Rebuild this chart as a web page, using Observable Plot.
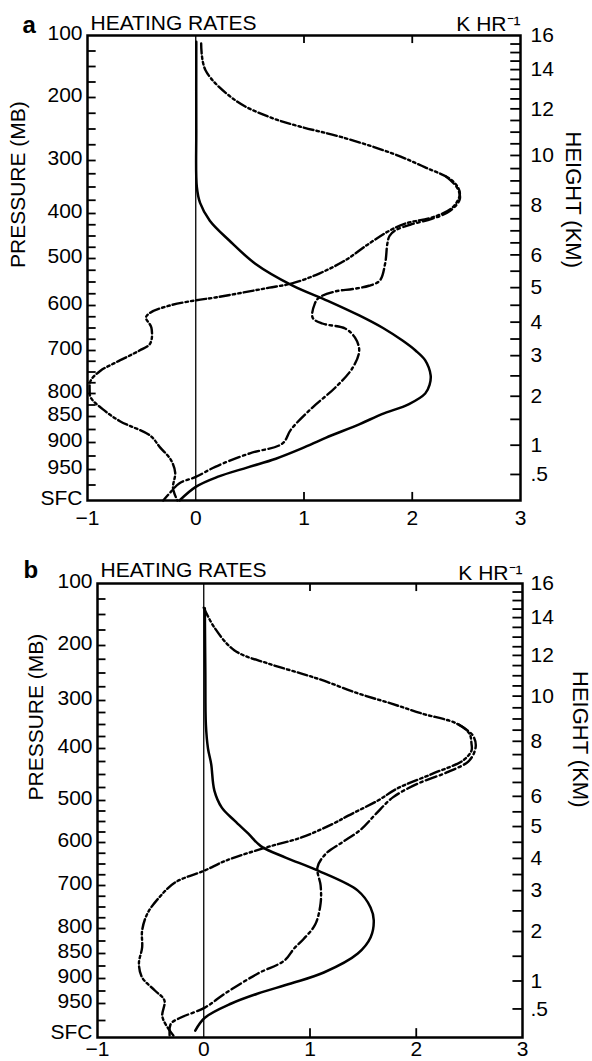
<!DOCTYPE html>
<html>
<head>
<meta charset="utf-8">
<script src="https://cdn.jsdelivr.net/npm/d3@7"></script>
<script src="https://cdn.jsdelivr.net/npm/@observablehq/plot@0.6"></script>
<style>
  html, body { margin: 0; padding: 0; background: #fff; }
  #chart svg { display: block; }
</style>
</head>
<body>
<div id="chart"></div>
<script>
// ---------- axis tick values ----------
const pressureLabels = [100, 200, 300, 400, 500, 600, 700, 800, 850, 900, 950, 1000];
const pressureMinor = d3.range(125, 1000, 25);
const heatingTicks = [-1, 0, 1, 2, 3];
const heightLabels = [16, 14, 12, 10, 8, 6, 5, 4, 3, 2, 1, 0.5];
const heightPressure = [100, 155, 218, 292, 385, 492, 562, 637, 712, 806, 905, 958];
const heightMinor = d3.range(0.5, 16, 0.5);

// ---------- panel a (pressure mb, heating rate K/hr) ----------
const aSolidP = [110, 250, 350, 380, 416, 460, 511, 557, 590, 622, 650, 678, 700, 723, 758, 780, 800, 823, 845, 865, 891, 911, 930, 946, 962, 978, 1000];
const aSolidV = [0.005, 0.005, 0.01, 0.04, 0.13, 0.31, 0.55, 0.89, 1.22, 1.51, 1.73, 1.91, 2.03, 2.12, 2.17, 2.16, 2.12, 1.97, 1.72, 1.51, 1.2, 0.98, 0.74, 0.48, 0.2, 0.0, -0.15];

const aDddP = [113, 156, 205, 231, 246, 263, 289, 313, 338, 362, 389, 409, 422, 438, 467, 504, 532, 553, 562, 568, 583, 589, 600, 616, 627, 649, 684, 700, 728, 747, 770, 793, 809, 834, 859, 887, 909, 932, 955, 980, 1000];
const aDddV = [0.05, 0.09, 0.37, 0.68, 0.96, 1.35, 1.82, 2.12, 2.37, 2.44, 2.37, 2.18, 1.94, 1.79, 1.60, 1.38, 1.14, 0.89, 0.68, 0.54, 0.18, 0.0, -0.24, -0.42, -0.46, -0.41, -0.42, -0.52, -0.74, -0.88, -0.97, -0.98, -0.97, -0.86, -0.70, -0.42, -0.33, -0.23, -0.19, -0.21, -0.17];

const aDdP = [330, 350, 372, 395, 412, 425, 438, 450, 467, 510, 547, 558, 565, 570, 583, 596, 627, 640, 651, 671, 700, 740, 786, 830, 875, 902, 920, 945, 962, 972, 988, 1000];
const aDdV = [2.31, 2.41, 2.44, 2.35, 2.18, 1.98, 1.84, 1.79, 1.77, 1.75, 1.70, 1.60, 1.45, 1.29, 1.14, 1.10, 1.08, 1.17, 1.38, 1.47, 1.51, 1.45, 1.29, 1.08, 0.88, 0.80, 0.50, 0.18, 0.0, -0.15, -0.24, -0.30];

// ---------- panel b ----------
const bSolidP = [140, 250, 350, 400, 430, 481, 517, 548, 579, 609, 635, 665, 712, 751, 781, 818, 850, 888, 910, 930, 950, 971, 990];
const bSolidV = [0.01, 0.015, 0.02, 0.04, 0.07, 0.10, 0.17, 0.29, 0.42, 0.54, 0.77, 1.07, 1.45, 1.57, 1.60, 1.57, 1.45, 1.13, 0.82, 0.51, 0.26, 0.01, -0.08];

const bDddP = [139, 171, 209, 233, 251, 264, 287, 306, 327, 348, 369, 390, 404, 423, 448, 477, 500, 536, 555, 588, 612, 643, 665, 693, 728, 765, 804, 838, 870, 898, 924, 944, 969, 990, 1000];
const bDddV = [0.0, 0.10, 0.29, 0.61, 0.92, 1.13, 1.45, 1.76, 2.05, 2.38, 2.50, 2.52, 2.52, 2.44, 2.16, 1.82, 1.64, 1.36, 1.22, 0.92, 0.58, 0.20, 0.01, -0.27, -0.42, -0.53, -0.58, -0.58, -0.61, -0.58, -0.46, -0.37, -0.39, -0.32, -0.27];

const bDdP = [350, 372, 395, 423, 445, 467, 494, 532, 571, 600, 626, 658, 700, 741, 790, 821, 840, 864, 890, 930, 956, 971, 980, 1000];
const bDdV = [2.40, 2.53, 2.56, 2.50, 2.30, 2.02, 1.78, 1.62, 1.47, 1.30, 1.15, 1.07, 1.10, 1.10, 1.05, 0.94, 0.85, 0.76, 0.51, 0.20, 0.01, -0.22, -0.31, -0.32];

// ---------- helpers ----------
const rows = (p, v) => p.map((d, i) => ({p: d, v: v[i]}));
const heightToPressure = d3.scaleLinear([...heightLabels, 0], [...heightPressure, 1000]);
const heightTickPressure = heightMinor.map(h => heightToPressure(h));
const FONT = "'Liberation Sans', Arial, Helvetica, sans-serif";

function drawPanel(cfg) {
  const m = cfg.margin;
  // the printed pressure axis is not linear: warp it piecewise through its labelled ticks
  const warp = d3.scaleLinear(pressureLabels, cfg.yRange);
  return Plot.plot({
    width: 592,
    height: cfg.height,
    marginTop: m.top, marginRight: m.right, marginBottom: m.bottom, marginLeft: m.left,
    style: {fontFamily: FONT, fontSize: "21px", color: "black", background: "white", overflow: "visible"},
    x: {domain: [-1, 3]},
    y: {transform: warp, domain: [cfg.yRange[cfg.yRange.length - 1], cfg.yRange[0]]},
    marks: [
      Plot.ruleX([0], {y1: 100, y2: 1000, stroke: "black", strokeWidth: 1.3}),
      Plot.ruleY(pressureMinor, {x1: -1, x2: -0.92, stroke: "black", strokeWidth: 1.8}),
      Plot.ruleY(heightTickPressure, {x1: 2.91, x2: 3, stroke: "black", strokeWidth: 1.8}),
      Plot.ruleX([1, 2], {y1: 100, y2: 113, stroke: "black", strokeWidth: 1.8}),
      Plot.ruleX([1, 2], {y1: 987, y2: 1000, stroke: "black", strokeWidth: 1.8}),
      Plot.line(cfg.solid, {x: "v", y: "p", curve: "catmull-rom", stroke: "black", strokeWidth: 2.5}),
      Plot.line(cfg.dashDot, {x: "v", y: "p", curve: "catmull-rom", stroke: "black", strokeWidth: 2.4, strokeDasharray: "11,3.5,2.5,3.5"}),
      Plot.line(cfg.dashDotDot, {x: "v", y: "p", curve: "catmull-rom", stroke: "black", strokeWidth: 2.4, strokeDasharray: "10,3,2.5,3,2.5,3"}),
      Plot.frame({stroke: "black", strokeWidth: 2.5}),
      Plot.axisX(heatingTicks, {anchor: "bottom", tickSize: 0, tickPadding: cfg.xPad, label: null, fontSize: 21,
        tickFormat: d => d < 0 ? "\u2212" + (-d) : String(d)}),
      Plot.axisY(pressureLabels.filter(p => p < 1000), {anchor: "left", tickSize: 0, tickPadding: 5, dy: -2, label: null, fontSize: 21,
        tickFormat: d => String(d)}),
      Plot.axisY([1000], {anchor: "left", tickSize: 0, tickPadding: 5, dy: cfg.sfcDy, label: null, fontSize: 21,
        tickFormat: () => "SFC"}),
      Plot.text(heightLabels, {x: 3, y: (d, i) => heightPressure[i], text: d => d === 0.5 ? ".5" : String(d),
        textAnchor: "start", dx: cfg.hDx, fontSize: 21}),
      Plot.text([cfg.letter], {frameAnchor: "top-left", dx: cfg.letterDx, dy: cfg.letterDy, fontSize: 24, fontWeight: "bold"}),
      Plot.text(["HEATING RATES"], {frameAnchor: "top-left", textAnchor: "start", dx: 3, dy: cfg.titleDy, fontSize: 21}),
      Plot.text(["K HR\u207B\u00B9"], {frameAnchor: "top-right", textAnchor: "end", dx: 0, dy: cfg.unitDy, fontSize: 21}),
      Plot.text(["PRESSURE (MB)"], {frameAnchor: "left", rotate: -90, dx: cfg.pDx, dy: cfg.pDy, fontSize: 21}),
      Plot.text(["HEIGHT (KM)"], {frameAnchor: "right", rotate: 90, dx: cfg.hLabDx, dy: cfg.hLabDy, fontSize: 22})
    ]
  });
}

const chart = document.getElementById("chart");
chart.append(drawPanel({
  letter: "a",
  height: 530,
  margin: {top: 35, right: 72, bottom: 30, left: 87},
  yRange: [35, 97, 160, 213, 258, 305, 350, 393, 416, 442, 469, 500],
  solid: rows(aSolidP, aSolidV),
  dashDot: rows(aDdP, aDdV),
  dashDotDot: rows(aDddP, aDddV),
  xPad: 10, hDx: 10, sfcDy: -2,
  letterDx: -65, letterDy: -20,
  titleDy: -20, unitDy: -19,
  pDx: -69, pDy: 0,
  hLabDx: 53, hLabDy: 0
}));
chart.append(drawPanel({
  letter: "b",
  height: 531,
  margin: {top: 53, right: 70, bottom: 24, left: 97},
  yRange: [53, 115, 170, 218, 270, 312, 355, 398, 423, 448, 473, 507],
  solid: rows(bSolidP, bSolidV),
  dashDot: rows(bDdP, bDdV),
  dashDotDot: rows(bDddP, bDddV),
  xPad: 4, hDx: 8, sfcDy: -5,
  letterDx: -74, letterDy: -23,
  titleDy: -21, unitDy: -18,
  pDx: -61, pDy: -10,
  hLabDx: 58, hLabDy: -3
}));
</script>
</body>
</html>
